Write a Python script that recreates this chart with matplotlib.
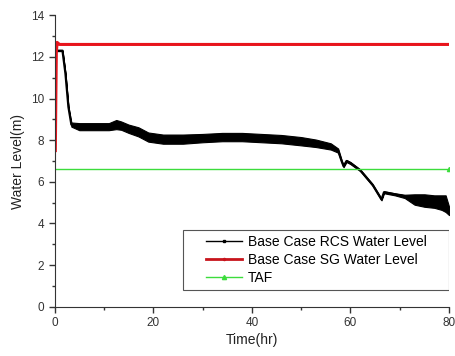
import matplotlib
matplotlib.use("Agg")
import matplotlib.pyplot as plt
import numpy as np
from matplotlib.lines import Line2D
from matplotlib.patches import Rectangle
from matplotlib.ticker import MultipleLocator

plt.rcParams["font.family"] = ["Liberation Sans", "DejaVu Sans"]

rcs_time = [0.4, 1.6, 2.2, 2.8, 3.4, 5, 8, 11, 12.5, 13.5, 15, 17, 19, 22, 26, 30,
            34, 38, 42, 46, 50, 53, 56, 57.5, 58.2, 58.6, 59.2, 60, 62, 64.5,
            66.3, 66.8, 69, 71, 73, 75, 77, 78.5, 79.3, 80]
rcs_level = [12.3, 12.3, 11.2, 9.6, 8.75, 8.65, 8.65, 8.65, 8.75, 8.7, 8.55, 8.4,
             8.15, 8.05, 8.05, 8.1, 8.15, 8.15, 8.1, 8.05, 7.95, 7.85, 7.7, 7.5,
             7.0, 6.75, 7.0, 6.9, 6.55, 5.85, 5.15, 5.5, 5.4, 5.3, 5.15, 5.1,
             5.05, 5.0, 4.95, 4.6]
rcs_spread = [0.02, 0.02, 0.02, 0.02, 0.1, 0.17, 0.17, 0.17, 0.22, 0.2, 0.2, 0.22,
              0.22, 0.22, 0.22, 0.2, 0.2, 0.2, 0.2, 0.2, 0.2, 0.18, 0.15, 0.1,
              0.05, 0.05, 0.05, 0.05, 0.04, 0.04, 0.04, 0.05, 0.05, 0.08, 0.25,
              0.3, 0.3, 0.35, 0.4, 0.2]

sg_time = [0.15, 0.25, 0.35, 0.5, 1.0, 80]
sg_level = [7.5, 10.0, 12.2, 12.7, 12.6, 12.6]

taf_time = [0, 80]
taf_level = [6.6, 6.6]

labels = ["Base Case RCS Water Level", "Base Case SG Water Level", "TAF"]

fig = plt.figure(figsize=(4.55, 3.56), dpi=100)
ax = fig.add_axes([0.12, 0.1385, 0.867, 0.8185])

t = np.array(rcs_time)
mid = np.array(rcs_level)
half = np.array(rcs_spread)
ax.fill_between(t, mid - half, mid + half, color="black", lw=0.8)
ax.plot(t, mid, color="black", lw=1.6)
ax.plot(sg_time, sg_level, color="#e8141c", lw=2.2)
ax.plot(taf_time, taf_level, color="#3cdc3c", lw=1.0,
        marker="^", markersize=3, markevery=[1])

ax.set_xlim(0, 80)
ax.set_ylim(0, 14)
ax.xaxis.set_major_locator(MultipleLocator(20))
ax.xaxis.set_minor_locator(MultipleLocator(10))
ax.yaxis.set_major_locator(MultipleLocator(2))
ax.yaxis.set_minor_locator(MultipleLocator(1))
for side in ("top", "right"):
    ax.spines[side].set_visible(False)
for side in ("left", "bottom"):
    ax.spines[side].set_color("#333333")
ax.tick_params(which="major", direction="out", length=4, width=1,
               labelsize=8.5, colors="#333333")
ax.tick_params(which="minor", direction="out", length=2.5, width=1,
               colors="#333333")
ax.set_xlabel("Time(hr)", fontsize=10, color="#222222", labelpad=3)
ax.set_ylabel("Water Level(m)", fontsize=10, color="#222222", labelpad=4)

# legend box drawn separately so the entries sit centred inside it
box_x, box_y, box_w, box_h = 0.326, 0.057, 0.674, 0.206
ax.add_patch(Rectangle((box_x, box_y), box_w, box_h, transform=ax.transAxes,
                       facecolor="white", edgecolor="#555555", lw=0.8, zorder=4))
handles = [
    Line2D([], [], color="black", lw=1, marker="s", markersize=2),
    Line2D([], [], color="#c8141c", lw=2, marker="o", markersize=1.5),
    Line2D([], [], color="#3cdc3c", lw=1, marker="^", markersize=3),
]
leg = ax.legend(handles, labels, loc="center",
                bbox_to_anchor=(box_x + box_w / 2, box_y + box_h / 2),
                fontsize=10, frameon=False, borderpad=0,
                handlelength=2.65, handletextpad=0.4, labelspacing=0.3)
leg.set_zorder(5)

fig.savefig("out.png", dpi=100)
